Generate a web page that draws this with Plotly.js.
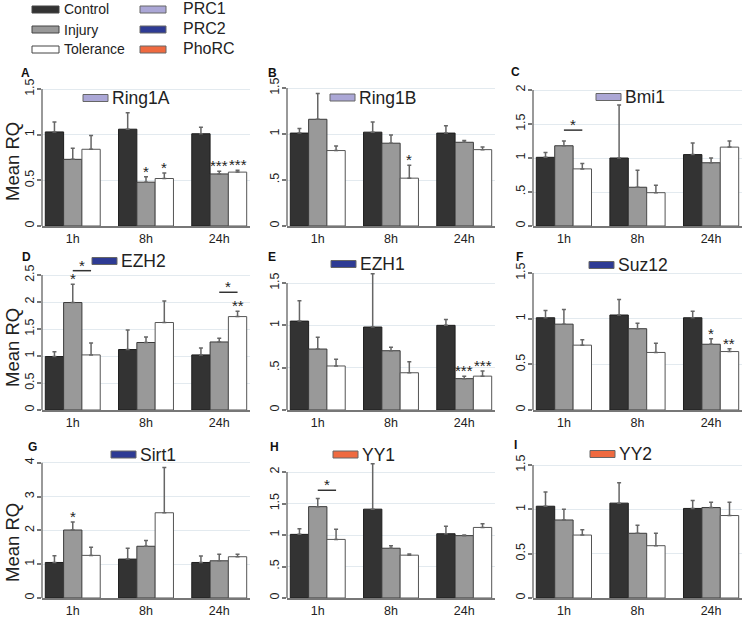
<!DOCTYPE html>
<html>
<head>
<meta charset="utf-8">
<script src="https://cdn.plot.ly/plotly-3.0.1.min.js"></script>
<style>body{margin:0;background:#fff}#myDiv{width:747px;height:618px}</style>
</head>
<body>
<div id="myDiv"></div>
<script>
// values: one row per gene, columns 1h / 8h / 24h
var times = ['1h', '8h', '24h'];
var groups = ['Control', 'Injury', 'Tolerance'];
var complexes = ['PRC1', 'PRC2', 'PhoRC'];
var genes = ['Ring1A', 'Ring1B', 'Bmi1', 'EZH2', 'EZH1', 'Suz12', 'Sirt1', 'YY1', 'YY2'];
var geneComplex = [0, 0, 0, 1, 1, 1, 1, 2, 2];
var panelLetters = ['A', 'B', 'C', 'D', 'E', 'F', 'G', 'H', 'I'];

var controlMean = [[1.03, 1.06, 1.01], [1.01, 1.02, 1.01], [1.01, 1.00, 1.05],
                   [0.99, 1.12, 1.02], [1.05, 0.98, 1.00], [1.01, 1.04, 1.01],
                   [1.05, 1.15, 1.05], [1.01, 1.41, 1.02], [1.035, 1.07, 1.01]];
var controlErr  = [[0.11, 0.18, 0.07], [0.05, 0.11, 0.08], [0.07, 0.78, 0.17],
                   [0.09, 0.36, 0.13], [0.24, 0.63, 0.07], [0.08, 0.17, 0.07],
                   [0.20, 0.32, 0.19], [0.09, 0.72, 0.12], [0.16, 0.23, 0.09]];
var injuryMean  = [[0.73, 0.48, 0.57], [1.16, 0.90, 0.91], [1.18, 0.57, 0.93],
                   [1.99, 1.25, 1.26], [0.72, 0.70, 0.37], [0.94, 0.89, 0.72],
                   [2.01, 1.53, 1.10], [1.45, 0.79, 0.99], [0.88, 0.73, 1.02]];
var injuryErr   = [[0.12, 0.06, 0.03], [0.28, 0.09, 0.02], [0.07, 0.25, 0.07],
                   [0.34, 0.10, 0.07], [0.14, 0.04, 0.03], [0.16, 0.06, 0.06],
                   [0.24, 0.17, 0.19], [0.13, 0.04, 0.01], [0.12, 0.09, 0.06]];
var toleranceMean = [[0.84, 0.52, 0.59], [0.82, 0.52, 0.83], [0.84, 0.49, 1.16],
                     [1.02, 1.62, 1.73], [0.52, 0.44, 0.40], [0.71, 0.63, 0.64],
                     [1.26, 2.52, 1.22], [0.93, 0.68, 1.12], [0.71, 0.59, 0.93]];
var toleranceErr  = [[0.15, 0.06, 0.02], [0.05, 0.14, 0.03], [0.08, 0.11, 0.09],
                     [0.22, 0.40, 0.10], [0.08, 0.13, 0.06], [0.06, 0.10, 0.03],
                     [0.24, 1.34, 0.07], [0.16, 0.02, 0.06], [0.06, 0.14, 0.15]];

var yTickVals = [[0, 0.5, 1, 1.5], [0, 0.5, 1, 1.5], [0, 0.5, 1, 1.5, 2],
                 [0, 0.5, 1, 1.5, 2, 2.5], [0, 0.5, 1, 1.5], [0, 0.5, 1, 1.5],
                 [0, 1, 2, 3, 4], [0, 0.5, 1, 1.5, 2], [0, 0.5, 1, 1.5]];
var yTickText = [['0', '0.5', '1', '1.5'], ['0', '.5', '1', '1.5'], ['0', '.5', '1', '1.5', '2'],
                 ['0', '0.5', '1', '1.5', '2', '2.5'], ['0', '.5', '1', '1.5'], ['0', '0.5', '1', '1.5'],
                 ['0', '1', '2', '3', '4'], ['0', '.5', '1', '1.5', '2'], ['0', '0.5', '1', '1.5']];

// significance marks: [gene, time, group, label]
var stars = [[0, 1, 1, '*'], [0, 1, 2, '*'], [0, 2, 1, '***'], [0, 2, 2, '***'],
             [1, 1, 2, '*'],
             [3, 0, 1, '*'], [3, 2, 2, '**'],
             [4, 2, 1, '***'], [4, 2, 2, '***'],
             [5, 2, 1, '*'], [5, 2, 2, '**'],
             [6, 0, 1, '*']];
// brackets: [gene, time, fromGroup, toGroup, level, label]
var brackets = [[2, 0, 1, 2, 1.41, '*'], [3, 0, 1, 2, 2.58, '*'], [3, 2, 1, 2, 2.18, '*'],
                [7, 0, 1, 2, 1.71, '*']];

// styling and placement (pixels)
var W = 747, H = 618;
var groupColors = ['#333333', '#999999', '#ffffff'];
var groupLines = ['#1e1e1e', '#3a3a3a', '#555555'];
var complexColors = ['#aba7d6', '#2e3b94', '#ef6a40'];
var colX = [[42, 250], [287, 495], [533, 742]];
var rowY = [[226, 84], [410, 266], [598, 458]];
var topTickPx = [89, 88, 90, 275, 283, 273, 462.7, 472, 465];
var letterPos = [[25, 73], [272, 73], [515, 72], [26, 257], [272, 257], [519, 257], [32, 447], [274, 447], [515, 445]];
var keyPos = [[83, 98], [330, 97.5], [596, 97], [92, 261], [331, 264], [589, 265], [111, 454.5], [333, 454.5], [590, 454]];
var titleY = [162, 348, 543];

function px(v) { return v / W; }
function py(v) { return 1 - v / H; }

var means = [controlMean, injuryMean, toleranceMean];
var errs = [controlErr, injuryErr, toleranceErr];

var data = [];
var layout = {
  width: W, height: H,
  margin: {l: 0, r: 0, t: 0, b: 0},
  paper_bgcolor: '#ffffff',
  plot_bgcolor: 'rgba(0,0,0,0)',
  barmode: 'group', bargap: 0.25, bargroupgap: 0,
  showlegend: false,
  font: {family: 'Liberation Sans, Arial, sans-serif', color: '#222', size: 12},
  shapes: [],
  annotations: []
};

function axisIds(g) {
  var sfx = g === 0 ? '' : String(g + 1);
  return {sfx: sfx, x: 'x' + sfx, y: 'y' + sfx};
}

genes.forEach(function (gene, g) {
  var col = g % 3, row = Math.floor(g / 3);
  var ids = axisIds(g);
  var ticks = yTickVals[g];
  var topTick = ticks[ticks.length - 1];
  var zeroPx = rowY[row][0], roofPx = rowY[row][1];
  var yMax = topTick * (zeroPx - roofPx) / (zeroPx - topTickPx[g]);

  groups.forEach(function (grp, k) {
    data.push({
      type: 'bar', name: grp,
      x: times, y: means[k][g],
      xaxis: ids.x, yaxis: ids.y,
      marker: {color: groupColors[k], line: {color: groupLines[k], width: 1}},
      error_y: {type: 'data', symmetric: false, array: errs[k][g], arrayminus: [0, 0, 0],
                color: '#666', thickness: 1.5, width: 2},
      hoverinfo: 'skip'
    });
  });

  layout['xaxis' + ids.sfx] = {
    domain: [px(colX[col][0]), px(colX[col][1])], anchor: ids.y,
    range: [-0.42, 2.42], showline: true, linecolor: '#777', linewidth: 1.5,
    ticks: '', showgrid: false, zeroline: false, fixedrange: true,
    tickfont: {size: 12.5, color: '#222'}
  };
  layout['yaxis' + ids.sfx] = {
    domain: [py(zeroPx), py(roofPx)], anchor: ids.x,
    range: [0, yMax], tickvals: ticks, ticktext: yTickText[g], tickangle: -90,
    ticks: 'outside', ticklen: 4, tickcolor: '#777', tickwidth: 1.5,
    ticklabelstandoff: -2,
    showline: false, showgrid: true, gridcolor: '#e3eaef', gridwidth: 1,
    zeroline: false, fixedrange: true, tickfont: {size: 12.5, color: '#222'}
  };
  // y axis line only spans the ticked range
  layout.shapes.push({type: 'line', xref: 'paper', yref: ids.y,
    x0: px(colX[col][0]), x1: px(colX[col][0]), y0: 0, y1: topTick,
    line: {color: '#777', width: 1.5}});

  // gene key
  var kp = keyPos[g];
  layout.shapes.push({type: 'rect', xref: 'paper', yref: 'paper',
    x0: px(kp[0]), x1: px(kp[0] + 25), y0: py(kp[1] + 3.5), y1: py(kp[1] - 3.5),
    fillcolor: complexColors[geneComplex[g]], line: {color: '#666', width: 1}});
  layout.annotations.push({xref: 'paper', yref: 'paper', x: px(kp[0] + 27), y: py(kp[1]),
    xanchor: 'left', yanchor: 'middle', showarrow: false, text: gene,
    font: {size: 17.5, color: '#222'}});

  // panel letter
  layout.annotations.push({xref: 'paper', yref: 'paper', x: px(letterPos[g][0]), y: py(letterPos[g][1]),
    xanchor: 'center', yanchor: 'middle', showarrow: false, text: '<b>' + panelLetters[g] + '</b>',
    font: {size: 12, color: '#111'}});
});

// Mean RQ titles on the left column
titleY.forEach(function (ty) {
  layout.annotations.push({xref: 'paper', yref: 'paper', x: px(12), y: py(ty),
    xanchor: 'center', yanchor: 'middle', textangle: -90, showarrow: false,
    text: 'Mean RQ', font: {size: 18.5, color: '#222'}});
});

stars.forEach(function (s) {
  var g = s[0], t = s[1], k = s[2];
  var ids = axisIds(g);
  layout.annotations.push({xref: ids.x, yref: ids.y, x: t + (k - 1) * 0.25,
    y: means[k][g][t] + errs[k][g][t], text: s[3], showarrow: false,
    yanchor: 'bottom', yshift: -5, font: {size: 15, color: '#222'}});
});

brackets.forEach(function (b) {
  var g = b[0], t = b[1];
  var ids = axisIds(g);
  var xa = t + (b[2] - 1) * 0.25, xb = t + (b[3] - 1) * 0.25;
  layout.shapes.push({type: 'line', xref: ids.x, yref: ids.y, x0: xa, x1: xb, y0: b[4], y1: b[4],
    line: {color: '#333', width: 1.5}});
  layout.annotations.push({xref: ids.x, yref: ids.y, x: (xa + xb) / 2, y: b[4], text: b[5],
    showarrow: false, yanchor: 'bottom', yshift: -5, font: {size: 15, color: '#222'}});
});

// top key: treatment groups and complexes
var keyRowsY = [9.5, 29.5, 49.5];
groups.forEach(function (grp, k) {
  layout.shapes.push({type: 'rect', xref: 'paper', yref: 'paper',
    x0: px(32), x1: px(59), y0: py(keyRowsY[k] + 3.5), y1: py(keyRowsY[k] - 3.5),
    fillcolor: groupColors[k], line: {color: '#444', width: 1}});
  layout.annotations.push({xref: 'paper', yref: 'paper', x: px(62), y: py(keyRowsY[k]),
    xanchor: 'left', yanchor: 'middle', showarrow: false, text: grp,
    font: {size: 14, color: '#222'}});
});
complexes.forEach(function (cx, k) {
  layout.shapes.push({type: 'rect', xref: 'paper', yref: 'paper',
    x0: px(140), x1: px(166), y0: py(keyRowsY[k] + 3.5), y1: py(keyRowsY[k] - 3.5),
    fillcolor: complexColors[k], line: {color: '#666', width: 1}});
  layout.annotations.push({xref: 'paper', yref: 'paper', x: px(181), y: py(keyRowsY[k] - 1),
    xanchor: 'left', yanchor: 'middle', showarrow: false, text: cx,
    font: {size: 16, color: '#222'}});
});

Plotly.newPlot('myDiv', data, layout, {displayModeBar: false});
</script>
</body>
</html>
